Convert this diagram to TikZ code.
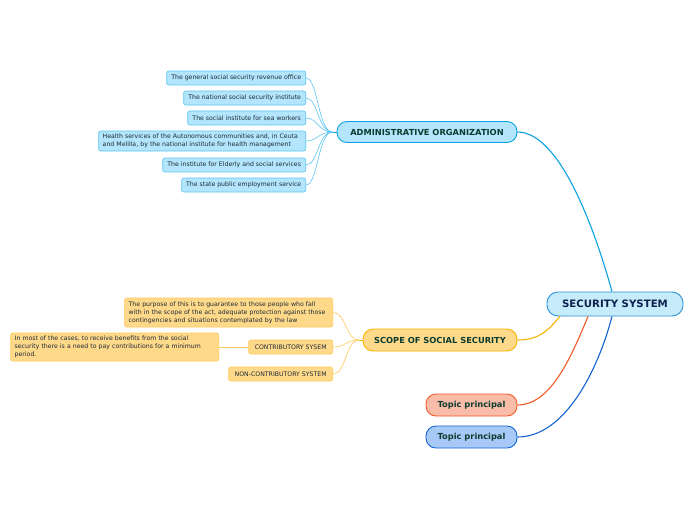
\documentclass[tikz,border=0pt]{standalone}
\usepackage{fontspec}
\setmainfont{DejaVu Sans}
\definecolor{secfill}{HTML}{C6EBFB}
\definecolor{secdraw}{HTML}{2C93D6}
\definecolor{admfill}{HTML}{B3E5FC}
\definecolor{admdraw}{HTML}{0AA2E2}
\definecolor{admline}{HTML}{0AA2E2}
\definecolor{subfill}{HTML}{B3E5FC}
\definecolor{subdraw}{HTML}{5CC6F2}
\definecolor{scofill}{HTML}{FFD98A}
\definecolor{scodraw}{HTML}{F7B500}
\definecolor{scosubdraw}{HTML}{FFC95A}
\definecolor{t1fill}{HTML}{F9BCA8}
\definecolor{t1draw}{HTML}{F05A28}
\definecolor{t2fill}{HTML}{A8C9F8}
\definecolor{t2draw}{HTML}{1463D2}
\definecolor{titletext}{HTML}{0B3B2E}
\definecolor{subtext}{HTML}{1E2A36}
\definecolor{navy}{HTML}{0E2250}
\begin{document}
\begin{tikzpicture}[x=1pt,y=-1pt,
  mainbox/.style={draw, line width=0.9pt, rounded corners=10pt, font=\bfseries\fontsize{8.3}{10}\selectfont, text=titletext, inner sep=0pt, align=center},
  subbox/.style={draw, line width=0.6pt, rounded corners=2pt, font=\fontsize{6.2}{8}\selectfont, text=subtext, inner sep=0pt, align=center},
  subleft/.style={subbox, align=left}
]
\useasboundingbox (0,0) rectangle (696,520);
\fill[white] (0,0) rectangle (696,520);

% main nodes
\node[mainbox, fill=secfill, draw=secdraw, text=navy, font=\bfseries\fontsize{10.2}{12}\selectfont, minimum width=136pt, minimum height=24pt, rounded corners=11pt] (sec) at (615,304) {SECURITY SYSTEM};
\node[mainbox, fill=admfill, draw=admdraw, minimum width=180pt, minimum height=21pt] (adm) at (427,132) {ADMINISTRATIVE ORGANIZATION};
\node[mainbox, fill=scofill, draw=scodraw, minimum width=154pt, minimum height=22pt] (sco) at (440,340) {SCOPE OF SOCIAL SECURITY};
\node[mainbox, fill=t1fill, draw=t1draw, minimum width=91pt, minimum height=22pt] (t1) at (471.5,405) {Topic principal};
\node[mainbox, fill=t2fill, draw=t2draw, minimum width=91pt, minimum height=22pt] (t2) at (471.5,437) {Topic principal};

% admin children
\begin{scope}[every node/.append style={subbox, fill=subfill, draw=subdraw, minimum height=14pt}]
\node[minimum width=139pt, anchor=east] (a1) at (306,78) {The general social security revenue office};
\node[minimum width=122pt, anchor=east] (a2) at (306,98) {The national social security institute};
\node[minimum width=118pt, anchor=east] (a3) at (306,118) {The social institute for sea workers};
\node[subleft, minimum width=207pt, minimum height=20pt, anchor=east, text width=199pt] (a4) at (306,141) {Health services of the Autonomous communities and, in Ceuta\\and Melilla, by the national institute for health management};
\node[minimum width=143pt, anchor=east] (a5) at (306,165) {The institute for Elderly and social services};
\node[minimum width=124pt, anchor=east] (a6) at (306,185) {The state public employment service};
\end{scope}

% scope children
\begin{scope}[every node/.append style={subbox, fill=scofill, draw=scosubdraw, minimum height=14pt}]
\node[subleft, minimum width=208pt, minimum height=29pt, anchor=east, text width=200pt] (s1) at (333,312.5) {The purpose of this is to guarantee to those people who fall\\with in the scope of the act, adequate protection against those\\contingencies and situations contemplated by the law};
\node[minimum width=84pt, anchor=east] (s2) at (333,347) {CONTRIBUTORY SYSEM};
\node[minimum width=104pt, anchor=east] (s3) at (333,374) {NON-CONTRIBUTORY SYSTEM};
\node[subleft, minimum width=208pt, minimum height=28pt, anchor=east, text width=200pt] (s4) at (219,347) {In most of the cases, to receive benefits from the social\\security there is a need to pay contributions for a minimum\\period.};
\end{scope}

% main connectors
\draw[admline, line width=1.1pt] (adm.east) .. controls (560,132) and (595,230) .. ([xshift=-3pt]sec.north);
\draw[scodraw, line width=1.1pt] (sco.east) .. controls (540,340) and (548,330) .. ([xshift=-55pt]sec.south);
\draw[t1draw, line width=1.1pt] (t1.east) .. controls (550,405) and (570,360) .. ([xshift=-27pt]sec.south);
\draw[t2draw, line width=1.1pt] (t2.east) .. controls (565,437) and (598,370) .. ([xshift=-3pt]sec.south);

% admin child connectors
\foreach \n in {a1,a2,a3,a4,a5,a6}{
  \draw[subdraw, line width=0.6pt] ([xshift=-4pt]adm.west) .. controls (318,132) and (318,0|-\n.east) .. (\n.east);
}
\draw[admline, line width=1pt] ([xshift=-4pt]adm.west) -- (adm.west);

% scope child connectors
\foreach \n in {s1,s2,s3}{
  \draw[scosubdraw, line width=0.6pt] ([xshift=-4pt]sco.west) .. controls (346,340) and (346,0|-\n.east) .. (\n.east);
}
\draw[scodraw, line width=1pt] ([xshift=-4pt]sco.west) -- (sco.west);
\draw[scosubdraw, line width=0.6pt] (s2.west) -- (s4.east);
\end{tikzpicture}
\end{document}
